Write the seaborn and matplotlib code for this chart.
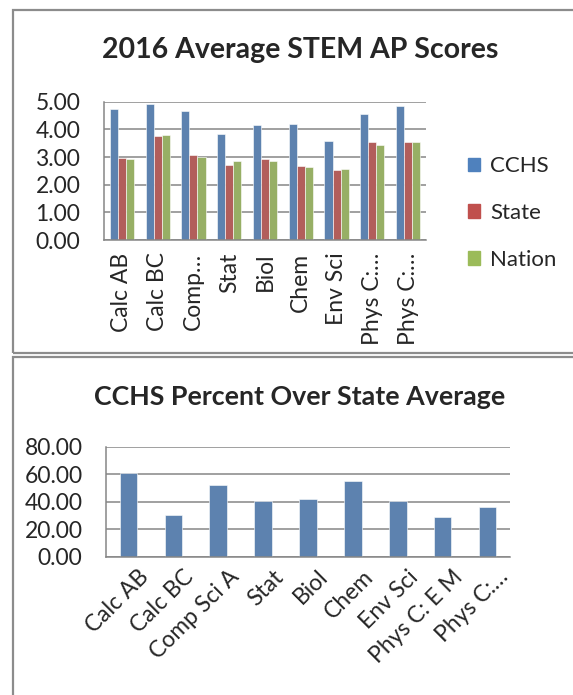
import matplotlib
matplotlib.use('Agg')
import matplotlib.pyplot as plt
import matplotlib.patches as mpatches
import matplotlib.transforms as mtransforms
import pandas as pd
import seaborn as sns

# chart data
subjects = ['Calc AB', 'Calc BC', 'Comp Sci A', 'Stat', 'Biol', 'Chem', 'Env Sci', 'Phys C: E M', 'Phys C: Mech']
top_labels = ['Calc AB', 'Calc BC', 'Comp…', 'Stat', 'Biol', 'Chem', 'Env Sci', 'Phys C:…', 'Phys C:…']
bottom_labels = ['Calc AB', 'Calc BC', 'Comp Sci A', 'Stat', 'Biol', 'Chem', 'Env Sci', 'Phys C: E M', 'Phys C:…']
groups = ['CCHS', 'State', 'Nation']
cchs = [4.75, 4.92, 4.67, 3.83, 4.16, 4.18, 3.57, 4.55, 4.84]
state = [2.96, 3.75, 3.06, 2.72, 2.93, 2.69, 2.53, 3.53, 3.55]
nation = [2.94, 3.81, 3.01, 2.86, 2.84, 2.64, 2.55, 3.43, 3.54]
pct_over_state = [60.6, 30.5, 52.4, 40.5, 41.9, 55.3, 40.5, 29.1, 35.9]

colors = ['#4F81BD', '#C0504D', '#9BBB59']
grid_c = '#868686'
TICK_FS = 16.5

sns.set_style('white')
plt.rcParams['font.family'] = ['Lato', 'DejaVu Sans']

scores = pd.DataFrame({
    'subject': subjects * 3,
    'group': [g for g in groups for _ in subjects],
    'score': cchs + state + nation,
})
pct = pd.DataFrame({'subject': subjects, 'pct': pct_over_state})

W, H = 573, 695
fig = plt.figure(figsize=(W / 100, H / 100), dpi=100)


def frac(x0, y0, x1, y1):
    return [x0 / W, 1 - y1 / H, (x1 - x0) / W, (y1 - y0) / H]


def style_axis(ax, n, ymax, step):
    ax.set_ylim(0, ymax)
    ax.set_yticks([i * step for i in range(int(ymax / step) + 1)])
    ax.set_yticklabels([f'{i * step:.2f}' for i in range(int(ymax / step) + 1)], fontsize=TICK_FS)
    ax.set_xlim(-0.5, n - 0.5)
    ax.set_xticks([i - 0.5 for i in range(n + 1)])
    ax.set_xticklabels([''] * (n + 1))
    ax.tick_params(axis='x', which='major', length=6, width=1.1, color=grid_c, direction='out')
    ax.tick_params(axis='y', length=7, width=1.1, color=grid_c, pad=10)
    ax.yaxis.grid(True, color=grid_c, linewidth=1.1)
    ax.set_axisbelow(True)
    for s in ['top', 'right']:
        ax.spines[s].set_visible(False)
    for s in ['left', 'bottom']:
        ax.spines[s].set_color(grid_c)
        ax.spines[s].set_linewidth(1.1)
    ax.set_xlabel('')
    ax.set_ylabel('')


# top chart
ax1 = fig.add_axes(frac(104, 101.7, 426, 240))
sns.barplot(data=scores, x='subject', y='score', hue='group', palette=colors,
            width=0.68, edgecolor='white', linewidth=0.4, ax=ax1)
style_axis(ax1, len(subjects), 5, 1)
ax1.set_xticks(range(len(subjects)), minor=True)
ax1.set_xticklabels(top_labels, minor=True, rotation=90, fontsize=TICK_FS, va='top')
ax1.tick_params(axis='x', which='minor', length=0, pad=9)
handles = [mpatches.Patch(color=c) for c in colors]
ax1.legend(handles, groups, loc='center left', bbox_to_anchor=(468 / W, 1 - 213 / H),
           bbox_transform=fig.transFigure, frameon=False, fontsize=16,
           handlelength=0.55, handleheight=0.55, handletextpad=0.45,
           labelspacing=1.2, borderpad=0, borderaxespad=0)
fig.text(300 / W, 1 - 50 / H, '2016 Average STEM AP Scores', ha='center', va='center',
         fontsize=20.5, fontweight='bold')

# bottom chart
ax2 = fig.add_axes(frac(106, 446.7, 510, 556.7))
sns.barplot(data=pct, x='subject', y='pct', color=colors[0], width=0.39,
            edgecolor='white', linewidth=0.4, ax=ax2)
style_axis(ax2, len(subjects), 80, 20)
ax2.set_xticks(range(len(subjects)), minor=True)
ax2.set_xticklabels(bottom_labels, minor=True, rotation=45, fontsize=TICK_FS,
                    ha='right', va='center', rotation_mode='anchor')
ax2.tick_params(axis='x', which='minor', length=0, pad=10)
shift = mtransforms.ScaledTranslation(17 / 100, -3 / 100, fig.dpi_scale_trans)
for lab in ax2.get_xticklabels(minor=True):
    lab.set_transform(lab.get_transform() + shift)
fig.text(300 / W, 1 - 397 / H, 'CCHS Percent Over State Average', ha='center', va='center',
         fontsize=19.3, fontweight='bold')

# panel borders
border = dict(transform=fig.transFigure, fill=False, edgecolor='#8C8C8C', linewidth=1.6)
fig.patches.append(mpatches.Rectangle((13 / W, 1 - 353 / H), (W + 20) / W, (353 - 10) / H, **border))
fig.patches.append(mpatches.Rectangle((13 / W, -0.05), (W + 20) / W, (0.05 + 1 - 356.5 / H), **border))

fig.savefig('out.png', dpi=100)
